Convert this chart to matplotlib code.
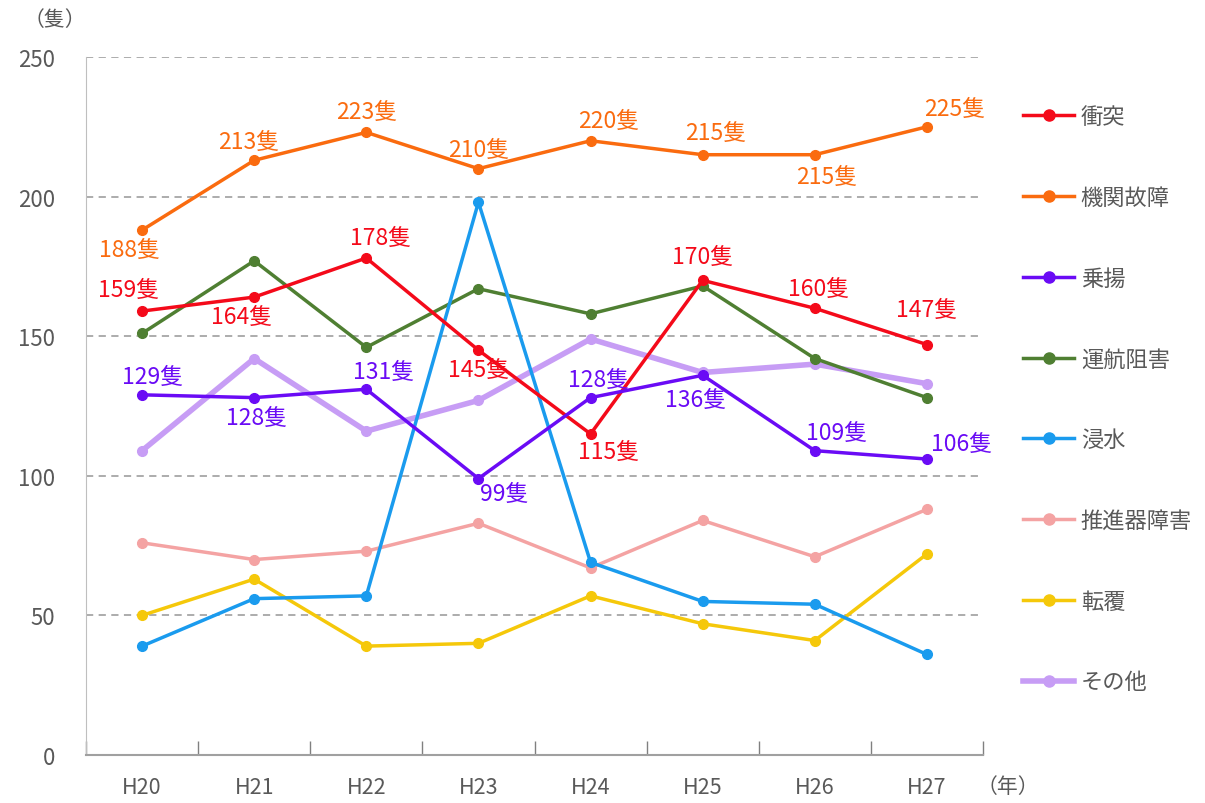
import numpy as np
import matplotlib.pyplot as plt
from matplotlib.lines import Line2D

plt.rcParams['font.family'] = ['Noto Sans CJK JP', 'DejaVu Sans']

# ---- data -----------------------------------------------------------------
years = ["H20", "H21", "H22", "H23", "H24", "H25", "H26", "H27"]

names = ["衝突", "機関故障", "乗揚", "運航阻害", "浸水", "推進器障害", "転覆", "その他"]
collision = [159, 164, 178, 145, 115, 170, 160, 147]
engine = [188, 213, 223, 210, 220, 215, 215, 225]
grounding = [129, 128, 131, 99, 128, 136, 109, 106]
obstruction = [151, 177, 146, 167, 158, 168, 142, 128]
flooding = [39, 56, 57, 198, 69, 55, 54, 36]
propeller = [76, 70, 73, 83, 67, 84, 71, 88]
capsize = [50, 63, 39, 40, 57, 47, 41, 72]
other = [109, 142, 116, 127, 149, 137, 140, 133]

series = [collision, engine, grounding, obstruction, flooding, propeller, capsize, other]
colors = ["#F40A1A", "#FA6B0F", "#6A0BF5", "#4F7F32", "#1A9BEE", "#F4A3A3", "#F5C80A", "#C79DF5"]
widths = [2.5, 2.5, 2.5, 2.5, 2.5, 2.5, 2.5, 4.0]
zorders = [8, 7, 9, 5, 6, 3, 4, 2]

# label offsets in pixels (dx, dy) for the labelled series
offs_collision = [(-13, 22), (-13, -19), (14, 21), (0, -19), (18, -18), (0, 24), (4, 20), (0, 35)]
offs_engine = [(-13, -19), (-6, 19), (0, 21), (0, 19), (18, 20), (13, 22), (12, -22), (28, 18)]
offs_grounding = [(11, 18), (2, -20), (17, 18), (26, -15), (8, 18), (-7, -24), (22, 18), (35, 16)]
labelled = {0: offs_collision, 1: offs_engine, 2: offs_grounding}

# ---- figure ---------------------------------------------------------------
fig = plt.figure(figsize=(12.05, 8.04), dpi=100)
ax = fig.add_axes([86 / 1205, 48 / 804, 897 / 1205, 698 / 804])

x = np.arange(len(years)) + 0.5
handles = []
for i, (vals, c) in enumerate(zip(series, colors)):
    ax.plot(x, vals, color=c, lw=widths[i], marker="o", ms=7, zorder=zorders[i],
            solid_joinstyle="round")
    handles.append(Line2D([], [], color=c, lw=widths[i], marker="o", ms=8))
    if i in labelled:
        for xi, v, (dx, dy) in zip(x, vals, labelled[i]):
            ax.annotate(f"{v}隻", (xi, v), xytext=(dx, dy), textcoords="offset pixels",
                        ha="center", va="center", fontsize=16.5, color=c, zorder=20)

ax.set_xlim(0, len(years))
ax.set_ylim(0, 250)
ax.set_yticks([0, 50, 100, 150, 200, 250])
for g in [50, 100, 150, 200, 250]:
    ax.axhline(g, color="#A6A6A6", lw=1.3, ls=(0, (4, 3)), zorder=1)

ax.set_xticks(np.arange(len(years) + 1))
ax.set_xticklabels([])
ax.set_xticks(x, minor=True)
ax.set_xticklabels(years, minor=True)
ax.tick_params(axis="x", which="major", direction="in", length=10, color="#808080", width=1)
ax.tick_params(axis="x", which="minor", length=0, pad=15, labelsize=15.5, labelcolor="#595959")
ax.tick_params(axis="y", length=0, pad=22, labelsize=16, labelcolor="#595959")

for s in ["top", "right"]:
    ax.spines[s].set_visible(False)
ax.spines["left"].set_color("#BFBFBF")
ax.spines["bottom"].set_color("#A0A0A0")
ax.spines["bottom"].set_linewidth(1.5)

fig.text(55 / 1205, 1 - 20 / 804, "（隻）", ha="center", va="center", fontsize=15, color="#595959")
fig.text(1008 / 1205, 1 - 787 / 804, "（年）", ha="center", va="center", fontsize=15, color="#595959")

fig.legend(handles, names, loc="upper left", bbox_to_anchor=(1003 / 1205, 1 - 86 / 804),
           frameon=False, fontsize=16, handlelength=2.3, handletextpad=0.3,
           labelspacing=2.6, labelcolor="#595959")

fig.savefig("out.png", dpi=100)
